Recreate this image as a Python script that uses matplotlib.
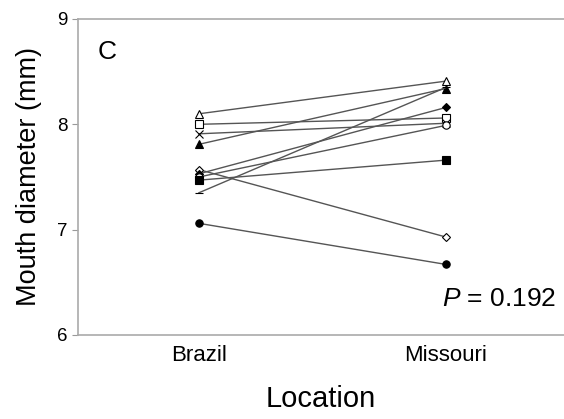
import numpy as np
import matplotlib
matplotlib.use("Agg")
import matplotlib.pyplot as plt

plt.rcParams['font.family'] = ['Liberation Sans', 'DejaVu Sans']
plt.rcParams['mathtext.fontset'] = 'custom'
plt.rcParams['mathtext.it'] = 'Liberation Sans:italic'

# mouth diameter (mm) per population, Brazil -> Missouri
locations = ["Brazil", "Missouri"]
brazil   = [8.10, 8.00, 7.91, 7.81, 7.57, 7.53, 7.50, 7.47, 7.35, 7.06]
missouri = [8.41, 8.06, 8.01, 8.34, 6.93, 8.16, 7.99, 7.66, 8.35, 6.67]
markers  = ['^', 's', 'x', '^', 'D', 'D', 'o', 's', '_', 'o']
filled   = [False, False, False, True, False, True, False, True, True, True]
p_value = "0.192"

fig = plt.figure(figsize=(5.64, 4.19), dpi=100, facecolor='white')
ax = fig.add_axes([0.138, 0.2005, 0.862, 0.7542])

xpos = np.arange(1, len(locations) + 1)
for i in range(len(brazil)):
    fc = 'black' if filled[i] else 'white'
    ms = 5.3 if markers[i] != 'D' else 4.4
    ax.plot(xpos, [brazil[i], missouri[i]], '-', color='#555555', lw=1.0,
            marker=markers[i], markersize=ms, markerfacecolor=fc,
            markeredgecolor='black', markeredgewidth=0.8)

ax.set_xlim(0.51, 2.478)
ax.set_ylim(6, 9)
ax.set_yticks([6, 7, 8, 9])
ax.set_xticks(xpos)
ax.set_xticklabels(locations, fontsize=16)
ax.tick_params(axis='y', labelsize=13.5, length=4, color='#999999', direction='out')
ax.tick_params(axis='x', length=0, pad=7)
for s in ['left', 'bottom', 'top']:
    ax.spines[s].set_color('#aaaaaa')
    ax.spines[s].set_linewidth(1.2)
ax.spines['right'].set_visible(False)

ax.set_ylabel("Mouth diameter (mm)", fontsize=19.5, labelpad=11)
ax.set_xlabel("Location", fontsize=21, labelpad=14)

ax.text(0.04, 0.935, "C", transform=ax.transAxes, fontsize=19, va='top', ha='left')
ax.text(0.985, 0.075, "$\\it{P}$ = " + p_value, transform=ax.transAxes,
        fontsize=19, ha='right', va='bottom')

plt.savefig("out.png", dpi=100)
